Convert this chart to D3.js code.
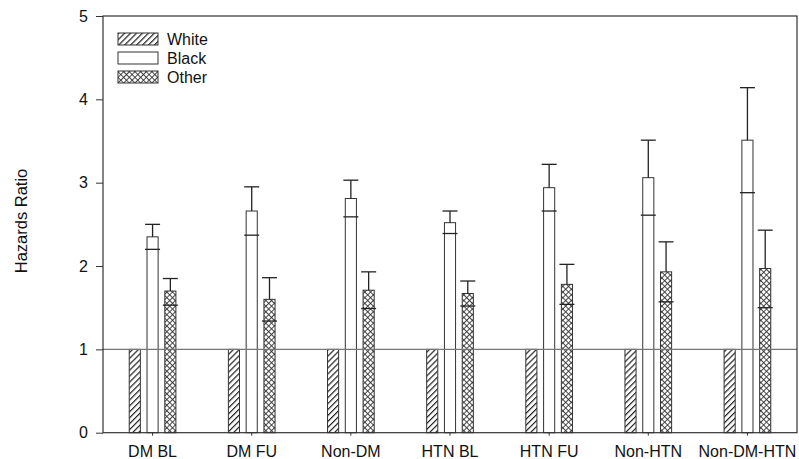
<!DOCTYPE html>
<html>
<head>
<meta charset="utf-8">
<script src="https://cdn.jsdelivr.net/npm/d3@7"></script>
<style>
  body { margin: 0; background: #fff; }
  svg text { font-family: "Liberation Sans", Arial, sans-serif; fill: #111; }
</style>
</head>
<body>
<svg width="799" height="459"></svg>
<script>
var categories = ['DM BL', 'DM FU', 'Non-DM', 'HTN BL', 'HTN FU', 'Non-HTN', 'Non-DM-HTN'];
var series = ['White', 'Black', 'Other'];

var whiteHR = [1, 1, 1, 1, 1, 1, 1];

var blackHR = [2.35, 2.66, 2.81, 2.52, 2.94, 3.06, 3.51];
var blackLow = [2.20, 2.37, 2.59, 2.39, 2.66, 2.61, 2.88];
var blackHigh = [2.50, 2.95, 3.03, 2.66, 3.22, 3.51, 4.14];

var otherHR = [1.70, 1.60, 1.71, 1.67, 1.78, 1.93, 1.97];
var otherLow = [1.53, 1.34, 1.49, 1.52, 1.54, 1.57, 1.50];
var otherHigh = [1.85, 1.86, 1.93, 1.82, 2.02, 2.29, 2.43];

var yTicks = [0, 1, 2, 3, 4, 5];

var svg = d3.select('svg');
var plot = {l: 103, r: 797, t: 16, b: 432.7};

var xScale = d3.scaleBand()
    .domain(categories)
    .range([plot.l, plot.r]);

var inner = d3.scaleBand()
    .domain(series)
    .range([-30, 30])
    .padding(0.375);

var yScale = d3.scaleLinear()
    .domain([0, 5])
    .range([plot.b, plot.t]);

// patterns
var defs = svg.append('defs');
var hatch = defs.append('pattern')
    .attr('id', 'hatch')
    .attr('patternUnits', 'userSpaceOnUse')
    .attr('width', 4.2).attr('height', 4.2)
    .attr('patternTransform', 'rotate(45)');
hatch.append('rect').attr('width', 4.2).attr('height', 4.2).attr('fill', '#fff');
hatch.append('line')
    .attr('x1', 0.6).attr('y1', 0).attr('x2', 0.6).attr('y2', 4.2)
    .attr('stroke', '#222').attr('stroke-width', 1.2);

var cross = defs.append('pattern')
    .attr('id', 'cross')
    .attr('patternUnits', 'userSpaceOnUse')
    .attr('width', 4).attr('height', 4)
    .attr('patternTransform', 'rotate(45)');
cross.append('rect').attr('width', 4).attr('height', 4).attr('fill', '#fff');
cross.append('line')
    .attr('x1', 0.5).attr('y1', 0).attr('x2', 0.5).attr('y2', 4)
    .attr('stroke', '#333').attr('stroke-width', 0.9);
cross.append('line')
    .attr('x1', 0).attr('y1', 0.5).attr('x2', 4).attr('y2', 0.5)
    .attr('stroke', '#333').attr('stroke-width', 0.9);

var fills = {White: 'url(#hatch)', Black: '#fff', Other: 'url(#cross)'};

var rows = categories.map(function(c, i) {
    return [
        {cat: c, key: 'White', v: whiteHR[i]},
        {cat: c, key: 'Black', v: blackHR[i], lo: blackLow[i], hi: blackHigh[i]},
        {cat: c, key: 'Other', v: otherHR[i], lo: otherLow[i], hi: otherHigh[i]}
    ];
});
var bars = d3.merge(rows);

function barX(d) {
    return xScale(d.cat) + xScale.bandwidth() / 2 + inner(d.key);
}

var errs = bars.filter(function(d) { return d.hi != null; });
var cw = 7.5;

svg.selectAll('.bar')
    .data(bars)
    .enter()
    .append('rect')
    .attr('class', 'bar')
    .attr('x', barX)
    .attr('y', function(d) { return yScale(d.v); })
    .attr('width', inner.bandwidth())
    .attr('height', function(d) { return yScale(0) - yScale(d.v); })
    .attr('fill', function(d) { return fills[d.key]; })
    .attr('stroke', '#333')
    .attr('stroke-width', 1);

// error bars: stem above the bar, caps at both ends
var eg = svg.append('g').attr('stroke', '#222').attr('stroke-width', 1.3);
errs.forEach(function(d) {
    var cx = barX(d) + inner.bandwidth() / 2;
    eg.append('line')
        .attr('x1', cx).attr('x2', cx)
        .attr('y1', yScale(d.v)).attr('y2', yScale(d.hi));
    eg.append('line')
        .attr('x1', cx - cw).attr('x2', cx + cw)
        .attr('y1', yScale(d.hi)).attr('y2', yScale(d.hi));
    eg.append('line')
        .attr('x1', cx - cw).attr('x2', cx + cw)
        .attr('y1', yScale(d.lo)).attr('y2', yScale(d.lo));
});

// reference line at 1
svg.append('line')
    .attr('x1', plot.l).attr('x2', plot.r)
    .attr('y1', yScale(1)).attr('y2', yScale(1))
    .attr('stroke', '#777').attr('stroke-width', 1.2);

// frame
svg.append('rect')
    .attr('x', plot.l).attr('y', plot.t)
    .attr('width', plot.r - plot.l).attr('height', plot.b - plot.t)
    .attr('fill', 'none').attr('stroke', '#333').attr('stroke-width', 1.2);

var yAxis = d3.axisLeft(yScale).tickValues(yTicks).tickFormat(d3.format('d')).tickSize(7).tickPadding(8);
var yG = svg.append('g')
    .attr('transform', 'translate(' + plot.l + ',0)')
    .call(yAxis);
yG.select('.domain').remove();
yG.selectAll('line').attr('stroke', '#333');
yG.selectAll('text').style('font-size', '16px').attr('fill', '#111');

var xAxis = d3.axisBottom(xScale).tickSize(3).tickPadding(10);
var xG = svg.append('g')
    .attr('transform', 'translate(0,' + plot.b + ')')
    .call(xAxis);
xG.select('.domain').remove();
xG.selectAll('line').attr('stroke', '#333');
xG.selectAll('text').style('font-size', '16px').attr('fill', '#111');

svg.append('text')
    .attr('transform', 'translate(27,221) rotate(-90)')
    .attr('text-anchor', 'middle')
    .style('font-size', '16.5px')
    .text('Hazards Ratio');

// legend
var legend = svg.append('g').attr('transform', 'translate(118,33)');
var li = legend.selectAll('.item')
    .data(series)
    .enter()
    .append('g')
    .attr('class', 'item')
    .attr('transform', function(d, i) { return 'translate(0,' + (i * 19) + ')'; });
li.append('rect')
    .attr('width', 40).attr('height', 12)
    .attr('fill', function(d) { return fills[d]; })
    .attr('stroke', '#333');
li.append('text')
    .attr('x', 49).attr('y', 12)
    .style('font-size', '16px')
    .text(function(d) { return d; });
</script>
</body>
</html>
